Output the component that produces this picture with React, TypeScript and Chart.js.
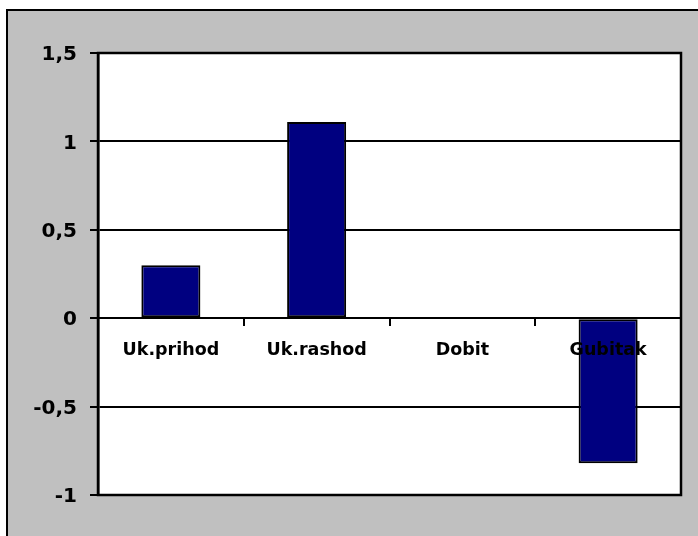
import React, { useEffect, useRef } from "react";
import { Chart, registerables } from "chart.js";

Chart.register(...registerables);

const categories = ["Uk.prihod", "Uk.rashod", "Dobit", "Gubitak"];
const values = [0.3, 1.11, 0, -0.82];
const yTicks = [-1, -0.5, 0, 0.5, 1, 1.5];
const yTickLabels = ["-1", "-0,5", "0", "0,5", "1", "1,5"];

const FONT = "'DejaVu Sans', 'Liberation Sans', Arial, sans-serif";

const plotFrame = {
  id: "plotFrame",
  beforeDraw(chart: any) {
    const { ctx, chartArea: a } = chart;
    ctx.save();
    ctx.fillStyle = "#ffffff";
    ctx.fillRect(a.left, a.top, a.right - a.left, a.bottom - a.top);
    ctx.restore();
  },
  afterDraw(chart: any) {
    const { ctx, chartArea: a } = chart;
    ctx.save();
    ctx.strokeStyle = "#000000";
    ctx.lineWidth = 2.5;
    ctx.strokeRect(a.left, a.top, a.right - a.left, a.bottom - a.top);
    ctx.restore();
  },
};

export default function App() {
  const ref = useRef<HTMLCanvasElement | null>(null);

  useEffect(() => {
    if (!ref.current) return;
    const chart = new Chart(ref.current, {
      type: "bar",
      data: {
        labels: categories,
        datasets: [
          {
            data: values,
            backgroundColor: "#000080",
            borderColor: "#000000",
            borderWidth: 2,
            borderSkipped: false,
            categoryPercentage: 1,
            barPercentage: 0.405,
          },
        ],
      },
      options: {
        responsive: false,
        animation: false,
        devicePixelRatio: 1,
        layout: { padding: { left: 0, top: 53, right: 17, bottom: 41 } },
        plugins: { legend: { display: false }, tooltip: { enabled: false } },
        scales: {
          x: {
            position: { y: 0 } as any,
            afterFit: (s: any) => {
              s.height = 0;
            },
            grid: {
              display: true,
              drawOnChartArea: false,
              drawTicks: true,
              tickLength: 7,
              color: "#000000",
              lineWidth: 2,
              z: 1,
            } as any,
            border: { display: true, color: "#000000", width: 2, z: 1 } as any,
            ticks: {
              color: "#000000",
              padding: 15,
              maxRotation: 0,
              autoSkip: false,
              z: 2,
              font: { family: FONT, size: 17.5, weight: "bold" },
            },
          },
          y: {
            min: -1,
            max: 1.5,
            afterFit: (s: any) => {
              s.width = 98;
            },
            afterBuildTicks: (s: any) => {
              s.ticks = yTicks.map((v) => ({ value: v }));
            },
            grid: {
              color: "#000000",
              lineWidth: 2,
              drawTicks: true,
              tickLength: 8,
            },
            border: { display: true, color: "#000000", width: 2.5 },
            ticks: {
              color: "#000000",
              padding: 13,
              labelOffset: 2,
              font: { family: FONT, size: 20, weight: "bold" },
              callback: (v: any) => {
                const i = yTicks.indexOf(Number(v));
                return i >= 0 ? yTickLabels[i] : "";
              },
            },
          },
        },
      },
      plugins: [plotFrame],
    });
    return () => chart.destroy();
  }, []);

  return (
    <div
      style={{
        position: "absolute",
        left: 0,
        top: 0,
        width: 698,
        height: 536,
        overflow: "hidden",
        background: "#ffffff",
      }}
    >
      <div
        style={{
          position: "absolute",
          left: 6,
          top: 9,
          width: 740,
          height: 580,
          border: "2px solid #000000",
          background: "#c0c0c0",
        }}
      />
      <canvas
        ref={ref}
        width={698}
        height={536}
        style={{ position: "absolute", left: 0, top: 0, width: 698, height: 536 }}
      />
    </div>
  );
}
